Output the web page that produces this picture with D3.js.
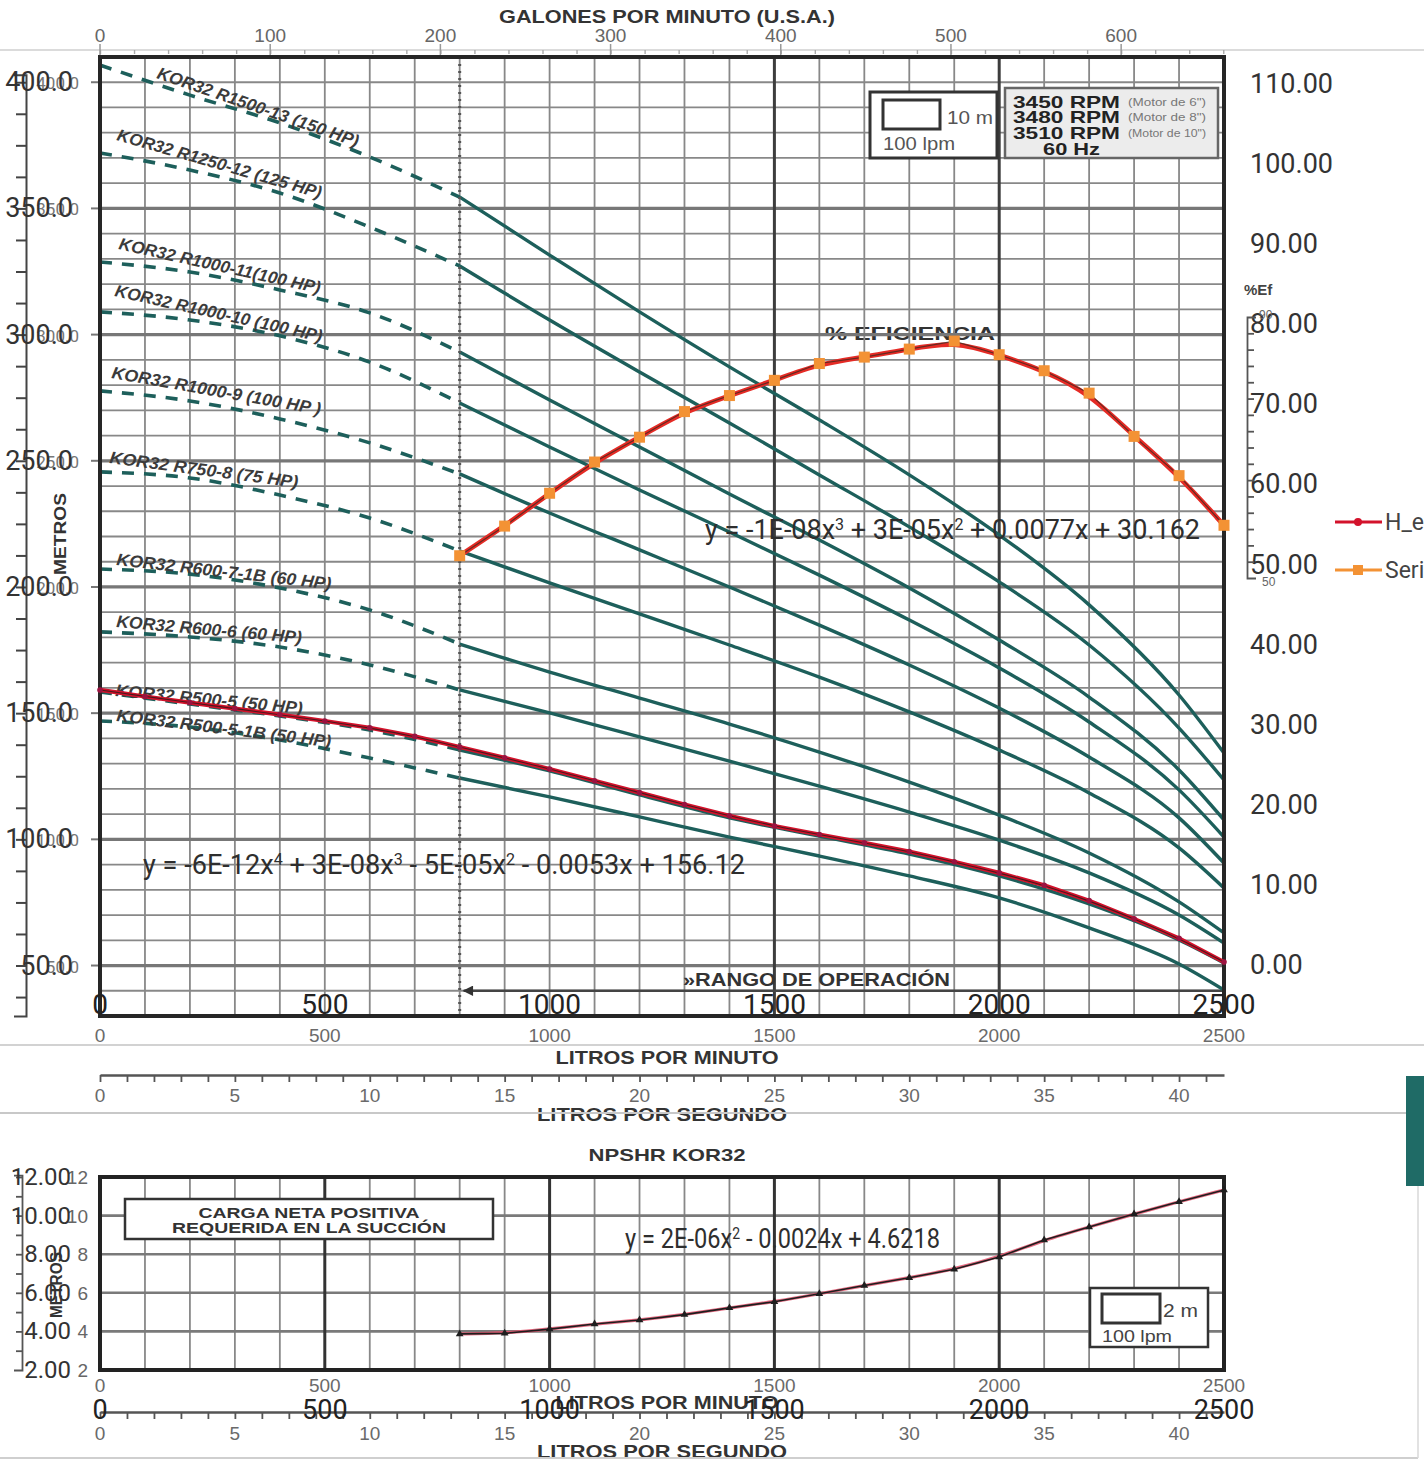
<!DOCTYPE html>
<html>
<head>
<meta charset="utf-8">
<script src="https://cdn.jsdelivr.net/npm/d3@7"></script>
<style>
  body { margin: 0; background: #fff; }
  svg { display: block; font-family: "Liberation Sans", Arial, sans-serif; }
</style>
</head>
<body>
<svg id="chart" width="1424" height="1462"></svg>
<script>
// ---- data ----
const flowCurve = [0, 200, 400, 600, 800, 1000, 1200, 1400, 1600, 1800, 2000, 2200, 2400, 2500];
const pumpLabels = [
  'KOR32 R1500-13 (150 HP)', 'KOR32 R1250-12 (125 HP)', 'KOR32 R1000-11(100 HP)',
  'KOR32 R1000-10 (100 HP)', 'KOR32 R1000-9 (100 HP )', 'KOR32 R750-8 (75 HP)',
  'KOR32 R600-7-1B (60 HP)', 'KOR32 R600-6 (60 HP)', 'KOR32 R500-5 (50 HP)',
  'KOR32 R500-5-1B (50 HP)'
];
const headR1500_13 = [406.8, 394.9, 383.9, 370.4, 354.5, 331.5, 309.0, 287.2, 266.2, 244.4, 220.6, 192.9, 157.2, 134.2];
const headR1250_12 = [372.0, 365.2, 356.1, 342.6, 327.2, 305.8, 285.2, 265.0, 244.4, 223.8, 202.0, 177.0, 144.1, 123.5];
const headR1000_11 = [328.8, 324.8, 317.7, 308.6, 293.1, 274.1, 255.5, 236.8, 218.6, 199.6, 179.0, 156.4, 127.5, 107.7];
const headR1000_10 = [309.0, 305.8, 299.5, 289.1, 272.9, 255.5, 238.4, 221.8, 204.7, 186.9, 167.9, 146.5, 119.6, 100.9];
const headR1000_9 = [277.7, 273.7, 266.6, 257.1, 244.8, 229.3, 214.7, 200.0, 184.9, 169.1, 152.0, 132.6, 108.5, 90.6];
const headR750_8 = [245.6, 243.2, 236.4, 227.3, 214.3, 201.6, 189.3, 177.0, 164.3, 150.5, 135.4, 118.4, 96.6, 80.7];
const headR600_7_1B = [207.1, 205.1, 199.6, 190.9, 177.4, 166.3, 156.0, 145.7, 134.6, 122.7, 109.6, 94.6, 75.2, 62.9];
const headR600_6 = [182.2, 180.2, 176.2, 169.1, 159.2, 150.1, 140.6, 131.0, 121.1, 110.8, 99.7, 86.7, 70.0, 58.9];
const headR500_5 = [158.4, 153.6, 148.9, 143.3, 135.4, 127.1, 117.6, 108.5, 101.3, 94.2, 85.5, 74.4, 60.1, 51.0];
const headR500_5_1B = [146.9, 144.5, 139.4, 132.2, 124.3, 116.8, 108.9, 100.9, 93.4, 85.5, 76.8, 64.9, 50.6, 40.3];

const flowHeq = [0, 100, 200, 300, 400, 500, 600, 700, 800, 900, 1000, 1100, 1200, 1300,
  1400, 1500, 1600, 1700, 1800, 1900, 2000, 2100, 2200, 2300, 2400, 2500];
const hEq = [159.2, 156.6, 154.2, 151.8, 149.4, 146.9, 144.2, 140.8, 136.6, 132.3, 127.9, 123.2, 118.5, 113.8,
  109.3, 105.3, 101.9, 98.6, 95.2, 91.1, 86.7, 81.8, 75.7, 68.5, 60.8, 51.4];

const flowEff = [800, 900, 1000, 1100, 1200, 1300, 1400, 1500, 1600, 1700, 1800, 1900, 2000, 2100, 2200, 2300, 2400, 2500];
const effSeries2 = [51.1, 54.8, 58.9, 62.8, 65.9, 69.1, 71.1, 73.0, 75.1, 75.9, 76.9, 77.9, 76.2, 74.2, 71.4, 66.0, 61.1, 54.9];

const flowNpsh = [800, 900, 1000, 1100, 1200, 1300, 1400, 1500, 1600, 1700, 1800, 1900, 2000, 2100, 2200, 2300, 2400, 2500];
const npshr = [3.87, 3.90, 4.12, 4.38, 4.59, 4.87, 5.22, 5.54, 5.95, 6.38, 6.78, 7.22, 7.85, 8.74, 9.41, 10.08, 10.72, 11.33];

const headTicks = [50, 100, 150, 200, 250, 300, 350, 400];
const effTicks = [0, 10, 20, 30, 40, 50, 60, 70, 80, 90, 100, 110];
const gpmTicks = [0, 100, 200, 300, 400, 500, 600];
const lpmTicks = [0, 500, 1000, 1500, 2000, 2500];
const lpsTicks = [0, 5, 10, 15, 20, 25, 30, 35, 40];
const npshTicks = [2, 4, 6, 8, 10, 12];

const pumps = pumpLabels.map((label, i) => ({
  label,
  heads: [headR1500_13, headR1250_12, headR1000_11, headR1000_10, headR1000_9,
    headR750_8, headR600_7_1B, headR600_6, headR500_5, headR500_5_1B][i]
}));

// where each slanted model label sits: [x, y, angle, length]
const labelLayout = [
  [156, 78, 19, 212], [116, 140, 16, 212], [118, 249, 12.5, 206], [114, 296, 12.5, 212],
  [111, 378, 10, 212], [109, 463, 7.5, 190], [116, 565, 6.5, 216], [116, 627, 5, 186],
  [115, 696, 5.5, 188], [116, 721, 7, 216]
];

// ---- scales ----
const x = d3.scaleLinear().domain([0, 2500]).range([100, 1224]);
const xGpm = d3.scaleLinear().domain([0, 2500 / 3.7854]).range([100, 1224]);
const xLps = d3.scaleLinear().domain([0, 2500 / 60]).range([100, 1224]);
const yHead = d3.scaleLinear().domain([30, 410]).range([1016, 57]);
const yEff = d3.scaleLinear().domain([0, 110]).range([965, 84]);
const yEffScan = d3.scaleLinear().domain([50, 90]).range([578, 317]);
const yNpsh = d3.scaleLinear().domain([2, 12]).range([1370, 1177]);

const svg = d3.select('#chart');
svg.append('rect').attr('width', 1424).attr('height', 1462).attr('fill', '#fff');

function txt(g, s, px, py, o = {}) {
  const t = g.append('text').attr('x', px).attr('y', py).text(s)
    .attr('font-size', o.size || 17)
    .attr('fill', o.fill || '#333')
    .attr('text-anchor', o.anchor || 'start');
  if (o.bold) t.attr('font-weight', 'bold');
  if (o.italic) t.attr('font-style', 'italic');
  if (o.family) t.attr('font-family', o.family);
  if (o.width) t.attr('textLength', o.width).attr('lengthAdjust', 'spacingAndGlyphs');
  if (o.rotate !== undefined) t.attr('transform', `rotate(${o.rotate},${px},${py})`);
  return t;
}

function equation(g, parts, px, py, width) {
  const t = g.append('text').attr('x', px).attr('y', py)
    .attr('font-family', 'Roboto, "Open Sans", sans-serif')
    .attr('font-size', 27).attr('fill', '#2e2e2e')
    .attr('textLength', width).attr('lengthAdjust', 'spacingAndGlyphs');
  parts.forEach(p => {
    if (Array.isArray(p)) {
      t.append('tspan').attr('baseline-shift', 'super').attr('font-size', 16).text(p[0]);
    } else {
      t.append('tspan').text(p);
    }
  });
}

const XL = 'Roboto, "Open Sans", sans-serif';

// ---- page lines ----
svg.append('line').attr('x1', 0).attr('x2', 1424).attr('y1', 50).attr('y2', 50)
  .attr('stroke', '#cfcfcf').attr('stroke-width', 1.5);
svg.append('line').attr('x1', 0).attr('x2', 1424).attr('y1', 1045).attr('y2', 1045)
  .attr('stroke', '#d2d2d2').attr('stroke-width', 2);

// ---- main grid ----
const main = svg.append('g');
txt(main, '% EFICIENCIA', 910, 340, { anchor: 'middle', bold: true, size: 18, width: 170, fill: '#333' });

d3.range(100, 2500, 100).filter(f => f !== 1500 && f !== 2000).forEach(f => {
  main.append('line').attr('x1', x(f)).attr('x2', x(f)).attr('y1', yHead(410)).attr('y2', yHead(30))
    .attr('stroke', '#888').attr('stroke-width', 1.8);
});
d3.range(40, 410, 10).filter(h => h % 50 !== 0 || h === 400).forEach(h => {
  main.append('line').attr('x1', x(0)).attr('x2', x(2500)).attr('y1', yHead(h)).attr('y2', yHead(h))
    .attr('stroke', '#888').attr('stroke-width', 1.8);
});
headTicks.filter(h => h !== 400).forEach(h => {
  main.append('line').attr('x1', x(0)).attr('x2', x(2500)).attr('y1', yHead(h)).attr('y2', yHead(h))
    .attr('stroke', '#777').attr('stroke-width', 3.2);
});
[1500, 2000].forEach(f => {
  main.append('line').attr('x1', x(f)).attr('x2', x(f)).attr('y1', yHead(410)).attr('y2', yHead(30))
    .attr('stroke', '#3d3d3d').attr('stroke-width', 3);
});
headTicks.forEach(h => {
  main.append('line').attr('x1', 91).attr('x2', 100).attr('y1', yHead(h)).attr('y2', yHead(h))
    .attr('stroke', '#777').attr('stroke-width', 2);
});

// operating range arrow (points left towards the 800 lpm limit)
svg.append('defs').append('marker').attr('id', 'arrow').attr('viewBox', '0 0 10 10')
  .attr('refX', 9).attr('refY', 5).attr('markerWidth', 5).attr('markerHeight', 4)
  .attr('orient', 'auto')
  .append('path').attr('d', 'M0,0 L10,5 L0,10 z').attr('fill', '#333');
main.append('line').attr('x1', x(2500)).attr('x2', x(800) + 4).attr('y1', yHead(40)).attr('y2', yHead(40))
  .attr('stroke', '#444').attr('stroke-width', 2.6).attr('marker-end', 'url(#arrow)');
txt(main, '»RANGO DE OPERACIÓN', 683, 986, { bold: true, size: 18, width: 267, fill: '#333' });

// ---- scanned pump curves ----
const curveLine = d3.line().x(d => x(d[0])).y(d => yHead(d[1])).curve(d3.curveMonotoneX);
pumps.forEach(p => {
  const pts = flowCurve.map((f, i) => [f, p.heads[i]]);
  main.append('path').datum(pts.filter(d => d[0] <= 800)).attr('d', curveLine)
    .attr('fill', 'none').attr('stroke', '#1d5f5b').attr('stroke-width', 3.6)
    .attr('stroke-dasharray', '12,10');
  main.append('path').datum(pts.filter(d => d[0] >= 800)).attr('d', curveLine)
    .attr('fill', 'none').attr('stroke', '#1d5f5b').attr('stroke-width', 3.4);
});

// 800 lpm dotted limit
main.append('line').attr('x1', x(800)).attr('x2', x(800)).attr('y1', yHead(410)).attr('y2', yHead(30))
  .attr('stroke', '#555').attr('stroke-width', 3).attr('stroke-dasharray', '2,5');

// plot frame
const frame = [[x(0), yHead(410), x(2500), yHead(410)], [x(0), yHead(30), x(2500), yHead(30)],
  [x(0), yHead(410), x(0), yHead(30)], [x(2500), yHead(410), x(2500), yHead(30)]];
frame.forEach(([a, b, c, d]) => {
  main.append('line').attr('x1', a).attr('y1', b).attr('x2', c).attr('y2', d)
    .attr('stroke', '#262626').attr('stroke-width', 4).attr('stroke-linecap', 'square');
});

// model labels
pumps.forEach((p, i) => {
  const [lx, ly, ang, len] = labelLayout[i];
  txt(main, p.label, lx, ly, { bold: true, italic: true, size: 17, fill: '#3b3b3b', rotate: ang, width: len });
});

// scale box and rpm box
main.append('rect').attr('x', 870).attr('y', 92).attr('width', 127).attr('height', 66)
  .attr('fill', '#fff').attr('stroke', '#333').attr('stroke-width', 3);
main.append('rect').attr('x', 883).attr('y', 100).attr('width', 57).attr('height', 29)
  .attr('fill', '#fff').attr('stroke', '#333').attr('stroke-width', 3);
txt(main, '10 m', 947, 124, { size: 18, fill: '#555', width: 46 });
txt(main, '100 lpm', 883, 150, { size: 18, fill: '#555', width: 72 });

main.append('rect').attr('x', 1005).attr('y', 88).attr('width', 213).attr('height', 70)
  .attr('fill', '#ececec').attr('stroke', '#666').attr('stroke-width', 2.5);
[['3450 RPM', '(Motor de 6")', 108], ['3480 RPM', '(Motor de 8")', 123], ['3510 RPM', '(Motor de 10")', 139]]
  .forEach(([rpm, motor, ty]) => {
    txt(main, rpm, 1013, ty, { bold: true, size: 17, fill: '#222', width: 107 });
    txt(main, motor, 1128, ty - 2, { size: 10, fill: '#777', width: 78 });
  });
txt(main, '60 Hz', 1043, 155, { bold: true, size: 17, fill: '#222', width: 57 });

// ---- excel series: efficiency ----
const effLine = d3.line().x(d => x(d[0])).y(d => yEff(d[1]));
const effPts = flowEff.map((f, i) => [f, effSeries2[i]]);
main.append('path').datum(effPts).attr('d', effLine.curve(d3.curveBasis))
  .attr('fill', 'none').attr('stroke', '#e52b25').attr('stroke-width', 4.8);
main.append('path').datum(effPts).attr('d', d3.line().x(d => x(d[0])).y(d => yEff(d[1])))
  .attr('fill', 'none').attr('stroke', '#3a2a20').attr('stroke-width', 1.2).attr('opacity', 0.75);
main.selectAll('.effpt').data(effPts).join('rect').attr('class', 'effpt')
  .attr('x', d => x(d[0]) - 5.5).attr('y', d => yEff(d[1]) - 5.5).attr('width', 11).attr('height', 11)
  .attr('fill', '#f39234');

// ---- excel series: head H_eq ----
const hPts = flowHeq.map((f, i) => [f, hEq[i]]);
main.append('path').datum(hPts).attr('d', d3.line().x(d => x(d[0])).y(d => yHead(d[1])))
  .attr('fill', 'none').attr('stroke', '#d3122b').attr('stroke-width', 4.2);
main.append('path').datum(hPts).attr('d', d3.line().x(d => x(d[0])).y(d => yHead(d[1])).curve(d3.curveBasis))
  .attr('fill', 'none').attr('stroke', '#2a1a1a').attr('stroke-width', 1.1).attr('opacity', 0.8);
main.selectAll('.hpt').data(hPts).join('circle').attr('class', 'hpt')
  .attr('cx', d => x(d[0])).attr('cy', d => yHead(d[1])).attr('r', 2.8).attr('fill', '#9b1340');

equation(main, ['y = -1E-08x', ['3'], ' + 3E-05x', ['2'], ' + 0.0077x + 30.162'], 705, 539, 495);
equation(main, ['y = -6E-12x', ['4'], ' + 3E-08x', ['3'], ' - 5E-05x', ['2'], ' - 0.0053x + 156.12'], 143, 874, 602);

// ---- axes around the main chart ----
// top: gallons per minute
const gTop = svg.append('g').attr('transform', 'translate(0,50)');
gTop.call(d3.axisBottom(xGpm).tickValues(d3.range(0, 661, 20)).tickSize(4).tickFormat(''));
gTop.select('.domain').remove();
gTop.selectAll('line').attr('stroke', '#aaa').attr('stroke-width', 1.4);
gpmTicks.forEach(v => {
  svg.append('line').attr('x1', xGpm(v)).attr('x2', xGpm(v)).attr('y1', 44).attr('y2', 55)
    .attr('stroke', '#999').attr('stroke-width', 1.5);
  txt(svg, String(v), xGpm(v), 42, { anchor: 'middle', size: 19, fill: '#666' });
});
txt(svg, 'GALONES POR MINUTO (U.S.A.)', 667, 23, { anchor: 'middle', bold: true, size: 19, width: 336, fill: '#333' });

// left excel axis (metres)
const yHeadAxis = yHead.copy().domain([30, 403]).range([yHead(30), yHead(403)]);
const gLeft = svg.append('g').attr('transform', 'translate(26,0)');
gLeft.call(d3.axisLeft(yHeadAxis).tickValues(d3.range(37.5, 403, 12.5)).tickSize(10).tickSizeOuter(12).tickFormat(''));
gLeft.selectAll('path, line').attr('stroke', '#444').attr('stroke-width', 2);
headTicks.forEach(v => {
  txt(svg, v.toFixed(1), 79, yHead(v) + 7, { anchor: 'end', size: 17, fill: '#777', family: XL });
  txt(svg, v.toFixed(1), 73, yHead(v) + 9, { anchor: 'end', size: 27, fill: '#333', family: XL });
});
txt(svg, 'METROS', 66, 534, { anchor: 'middle', bold: true, size: 17, fill: '#333', rotate: -90, width: 82 });

// right excel axis (efficiency) and scanned %Ef bracket
effTicks.forEach(v => {
  txt(svg, v.toFixed(2), 1250, yEff(v) + 9, { size: 27, fill: '#333', family: XL });
});
const gEf = svg.append('g').attr('transform', 'translate(1247,0)');
gEf.call(d3.axisRight(yEffScan).tickValues(d3.range(52.5, 90, 2.5)).tickSize(7).tickSizeOuter(9).tickFormat(''));
gEf.selectAll('path, line').attr('stroke', '#555').attr('stroke-width', 1.8);
txt(svg, '%Ef', 1244, 295, { bold: true, size: 15, fill: '#444' });
txt(svg, '90', 1259, yEffScan(90) + 2, { size: 12, fill: '#666' });
txt(svg, '50', 1262, yEffScan(50) + 8, { size: 12, fill: '#666' });

// legend (cut by the page edge)
const leg = svg.append('g');
leg.append('line').attr('x1', 1335).attr('x2', 1382).attr('y1', 522).attr('y2', 522)
  .attr('stroke', '#d3122b').attr('stroke-width', 3);
leg.append('circle').attr('cx', 1358).attr('cy', 522).attr('r', 4).attr('fill', '#d3122b');
txt(leg, 'H_eq', 1385, 530, { size: 23, fill: '#444', family: XL });
leg.append('line').attr('x1', 1335).attr('x2', 1382).attr('y1', 570).attr('y2', 570)
  .attr('stroke', '#f39234').attr('stroke-width', 3);
leg.append('rect').attr('x', 1353).attr('y', 565).attr('width', 10).attr('height', 10).attr('fill', '#f39234');
txt(leg, 'Series2', 1385, 578, { size: 23, fill: '#444', family: XL });

// bottom of main chart
lpmTicks.forEach(v => {
  txt(svg, String(v), x(v), 1014, { anchor: 'middle', size: 28, fill: '#222', family: XL });
  txt(svg, String(v), x(v), 1042, { anchor: 'middle', size: 19, fill: '#6a6a6a' });
});
txt(svg, 'LITROS POR MINUTO', 667, 1064, { anchor: 'middle', bold: true, size: 18, width: 223, fill: '#333' });

function lpsAxis(yPos, labelY, titleY) {
  const g = svg.append('g').attr('transform', `translate(0,${yPos})`);
  g.call(d3.axisBottom(xLps).tickValues(d3.range(0, 42, 1)).tickSize(7).tickSizeOuter(0).tickFormat(''));
  g.selectAll('path, line').attr('stroke', '#555').attr('stroke-width', 1.8);
  g.select('.domain').attr('stroke-width', 2.4);
  lpsTicks.forEach(v => txt(svg, String(v), xLps(v), labelY, { anchor: 'middle', size: 19, fill: '#6a6a6a' }));
  txt(svg, 'LITROS POR SEGUNDO', 662, titleY, { anchor: 'middle', bold: true, size: 18, width: 250, fill: '#333' });
}
lpsAxis(1075, 1102, 1121);
svg.append('line').attr('x1', 0).attr('x2', 1424).attr('y1', 1113).attr('y2', 1113)
  .attr('stroke', '#c8c8c8').attr('stroke-width', 2);

// side tab
svg.append('rect').attr('x', 1406).attr('y', 1076).attr('width', 20).attr('height', 110).attr('fill', '#1f6b66');

// ---- NPSHR chart ----
const np = svg.append('g');
txt(np, 'NPSHR KOR32', 667, 1161, { anchor: 'middle', bold: true, size: 17, width: 157, fill: '#333' });
d3.range(100, 2500, 100).filter(f => f % 500 !== 0).forEach(f => {
  np.append('line').attr('x1', x(f)).attr('x2', x(f)).attr('y1', yNpsh(12)).attr('y2', yNpsh(2))
    .attr('stroke', '#888').attr('stroke-width', 1.8);
});
[4, 6, 8, 10].forEach(h => {
  np.append('line').attr('x1', x(0)).attr('x2', x(2500)).attr('y1', yNpsh(h)).attr('y2', yNpsh(h))
    .attr('stroke', '#7a7a7a').attr('stroke-width', 2.6);
});
[500, 1000, 1500, 2000].forEach(f => {
  np.append('line').attr('x1', x(f)).attr('x2', x(f)).attr('y1', yNpsh(12)).attr('y2', yNpsh(2))
    .attr('stroke', '#333').attr('stroke-width', 3);
});
[[x(0), yNpsh(12), x(2500), yNpsh(12)], [x(0), yNpsh(2), x(2500), yNpsh(2)],
  [x(0), yNpsh(12), x(0), yNpsh(2)], [x(2500), yNpsh(12), x(2500), yNpsh(2)]].forEach(([a, b, c, d]) => {
  np.append('line').attr('x1', a).attr('y1', b).attr('x2', c).attr('y2', d)
    .attr('stroke', '#222').attr('stroke-width', 4).attr('stroke-linecap', 'square');
});

np.append('rect').attr('x', 125).attr('y', 1199).attr('width', 368).attr('height', 40)
  .attr('fill', '#fff').attr('stroke', '#333').attr('stroke-width', 2.5);
txt(np, 'CARGA NETA POSITIVA', 309, 1218, { anchor: 'middle', bold: true, size: 15, width: 221, fill: '#333' });
txt(np, 'REQUERIDA EN LA SUCCIÓN', 309, 1233, { anchor: 'middle', bold: true, size: 15, width: 274, fill: '#333' });

np.append('rect').attr('x', 1090).attr('y', 1288).attr('width', 118).attr('height', 59)
  .attr('fill', '#fff').attr('stroke', '#333').attr('stroke-width', 2.5);
np.append('rect').attr('x', 1102).attr('y', 1294).attr('width', 58).attr('height', 29)
  .attr('fill', '#fff').attr('stroke', '#333').attr('stroke-width', 3);
txt(np, '2 m', 1163, 1317, { size: 19, fill: '#444', width: 35 });
txt(np, '100 lpm', 1102, 1342, { size: 17, fill: '#444', width: 70 });

const nPts = flowNpsh.map((f, i) => [f, npshr[i]]);
np.append('path').datum(nPts).attr('d', d3.line().x(d => x(d[0])).y(d => yNpsh(d[1])).curve(d3.curveBasis))
  .attr('fill', 'none').attr('stroke', '#e0506a').attr('stroke-width', 3.2).attr('opacity', 0.85);
np.append('path').datum(nPts).attr('d', d3.line().x(d => x(d[0])).y(d => yNpsh(d[1])))
  .attr('fill', 'none').attr('stroke', '#1e1e1e').attr('stroke-width', 1.6);
np.selectAll('.npt').data(nPts).join('path').attr('class', 'npt')
  .attr('transform', d => `translate(${x(d[0])},${yNpsh(d[1])})`)
  .attr('d', d3.symbol(d3.symbolTriangle, 26)).attr('fill', '#1e1e1e');
equation(np, ['y = 2E-06x', ['2'], ' - 0.0024x + 4.6218'], 625, 1248, 315);

// NPSHR left axis
const yNpshAxis = yNpsh.copy().domain([2, 12.1]).range([yNpsh(2), yNpsh(12.1)]);
const gnL = svg.append('g').attr('transform', 'translate(22,0)');
gnL.call(d3.axisLeft(yNpshAxis).tickValues(d3.range(3, 12.1, 1)).tickSize(6).tickSizeOuter(8).tickFormat(''));
gnL.selectAll('path, line').attr('stroke', '#555').attr('stroke-width', 1.8);
npshTicks.forEach(v => {
  txt(svg, String(v), 88, yNpsh(v) + 7, { anchor: 'end', size: 19, fill: '#666' });
  txt(svg, v.toFixed(2), 71, yNpsh(v) + 8, { anchor: 'end', size: 24, fill: '#333', family: XL });
});
txt(svg, 'METROS', 62, 1285, { anchor: 'middle', bold: true, size: 16, fill: '#333', rotate: -90, width: 66 });

// NPSHR bottom
lpmTicks.forEach(v => {
  txt(svg, String(v), x(v), 1392, { anchor: 'middle', size: 19, fill: '#6a6a6a' });
});
txt(svg, 'LITROS POR MINUTO', 667, 1409, { anchor: 'middle', bold: true, size: 18, width: 223, fill: '#333' });
lpsAxis(1412, 1440, 1458);
lpmTicks.forEach(v => {
  txt(svg, String(v), x(v), 1419, { anchor: 'middle', size: 27, fill: '#222', family: XL });
});
svg.append('line').attr('x1', 0).attr('x2', 1418).attr('y1', 1458).attr('y2', 1458)
  .attr('stroke', '#cfcfcf').attr('stroke-width', 2);
svg.append('line').attr('x1', 1418).attr('x2', 1418).attr('y1', 1186).attr('y2', 1458)
  .attr('stroke', '#d8d8d8').attr('stroke-width', 1.5);
</script>
</body>
</html>
